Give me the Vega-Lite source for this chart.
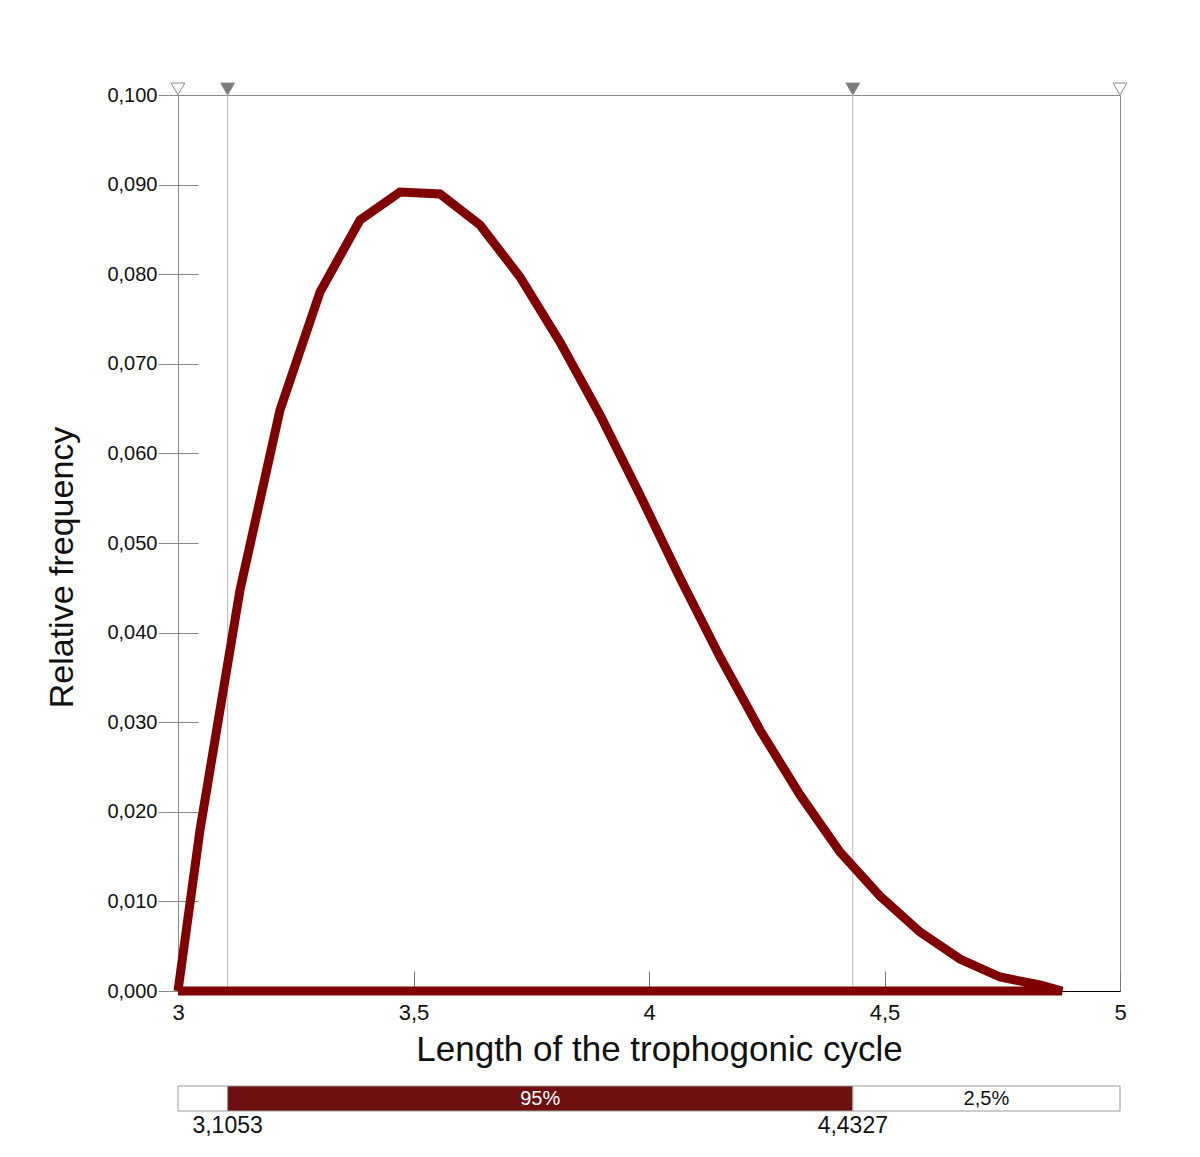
{
  "$schema": "https://vega.github.io/schema/vega-lite/v6.json",
  "padding": {"left": 44, "top": 80, "right": 20, "bottom": 10},
  "background": "white",
  "spacing": 17,
  "config": {
    "font": "Liberation Sans",
    "view": {"stroke": "#8a8a8a", "strokeWidth": 1}
  },
  "resolve": {"scale": {"fill": "independent", "color": "independent"}},
  "datasets": {
    "curve": [
      {"x": 3.0, "y": 0.0, "o": 1},
      {"x": 3.0467, "y": 0.01797, "o": 2},
      {"x": 3.1316, "y": 0.04475, "o": 3},
      {"x": 3.2166, "y": 0.06484, "o": 4},
      {"x": 3.3015, "y": 0.07801, "o": 5},
      {"x": 3.3864, "y": 0.08605, "o": 6},
      {"x": 3.4713, "y": 0.08917, "o": 7},
      {"x": 3.5563, "y": 0.08895, "o": 8},
      {"x": 3.6412, "y": 0.08549, "o": 9},
      {"x": 3.7261, "y": 0.07969, "o": 10},
      {"x": 3.811, "y": 0.07243, "o": 11},
      {"x": 3.896, "y": 0.06429, "o": 12},
      {"x": 3.9809, "y": 0.05536, "o": 13},
      {"x": 4.0658, "y": 0.04609, "o": 14},
      {"x": 4.1507, "y": 0.03728, "o": 15},
      {"x": 4.2357, "y": 0.02913, "o": 16},
      {"x": 4.3206, "y": 0.02188, "o": 17},
      {"x": 4.4055, "y": 0.01551, "o": 18},
      {"x": 4.4904, "y": 0.0106, "o": 19},
      {"x": 4.5754, "y": 0.00658, "o": 20},
      {"x": 4.6603, "y": 0.00357, "o": 21},
      {"x": 4.7452, "y": 0.00156, "o": 22},
      {"x": 4.8301, "y": 0.00067, "o": 23},
      {"x": 4.8769, "y": 0.0, "o": 24},
      {"x": 3.0, "y": 0.0, "o": 25}
    ],
    "bounds": [
      {"x": 3.1053, "kind": "ci", "label": "3,1053"},
      {"x": 4.4327, "kind": "ci", "label": "4,4327"}
    ],
    "markers": [
      {"x": 3.0, "y": 0.1, "kind": "range"},
      {"x": 3.1053, "y": 0.1, "kind": "ci"},
      {"x": 4.4327, "y": 0.1, "kind": "ci"},
      {"x": 5.0, "y": 0.1, "kind": "range"}
    ],
    "segments": [
      {"x": 3.0, "x2": 3.1053, "kind": "tail", "label": ""},
      {"x": 3.1053, "x2": 4.4327, "kind": "ci", "label": "95%"},
      {"x": 4.4327, "x2": 5.0, "kind": "tail", "label": "2,5%"}
    ]
  },
  "vconcat": [
    {
      "width": 942,
      "height": 896,
      "layer": [
        {
          "data": {"name": "bounds"},
          "mark": {"type": "rule", "color": "#b8b8b8", "strokeWidth": 1},
          "encoding": {
            "x": {
              "field": "x", "type": "quantitative",
              "scale": {"domain": [3, 5], "nice": false, "zero": false},
              "axis": {
                "values": [3, 3.5, 4, 4.5, 5],
                "labelExpr": "replace(format(datum.value, '~g'), '.', ',')",
                "labelFontSize": 22,
                "labelColor": "#111",
                "labelPadding": 31,
                "labelFlush": false,
                "labelOverlap": false,
                "tickSize": -20,
                "tickColor": "#777",
                "domainColor": "#000",
                "grid": false,
                "title": "Length of the trophogonic cycle",
                "titleFontSize": 35,
                "titleFontWeight": "normal",
                "titleColor": "#111",
                "titlePadding": 9,
                "titleX": 481,
                "titleY": 41,
                "titleAlign": "center",
                "titleBaseline": "top"
              }
            }
          }
        },
        {
          "data": {"name": "curve"},
          "mark": {"type": "line", "color": "#800000", "strokeWidth": 9, "strokeJoin": "miter", "strokeCap": "butt"},
          "encoding": {
            "x": {"field": "x", "type": "quantitative"},
            "y": {
              "field": "y", "type": "quantitative",
              "scale": {"domain": [0, 0.1], "nice": false},
              "axis": {
                "values": [0, 0.01, 0.02, 0.03, 0.04, 0.05, 0.06, 0.07, 0.08, 0.09, 0.1],
                "labelExpr": "replace(format(datum.value, '.3f'), '.', ',')",
                "labelFontSize": 20,
                "labelColor": "#111",
                "labelPadding": 1,
                "offset": -20,
                "domain": false,
                "tickSize": 40,
                "tickColor": "#888",
                "grid": false,
                "title": "Relative frequency",
                "titleFontSize": 34,
                "titleFontWeight": "normal",
                "titleColor": "#111",
                "titleAngle": -90,
                "titleAlign": "center",
                "titleBaseline": "middle",
                "titleX": -136,
                "titleY": 472
              }
            },
            "order": {"field": "o", "type": "quantitative"}
          }
        },
        {
          "data": {"name": "markers"},
          "mark": {"type": "point", "shape": "triangle-down", "size": 190, "filled": true, "yOffset": -6, "stroke": "#8a8a8a", "strokeWidth": 1, "opacity": 1},
          "encoding": {
            "x": {"field": "x", "type": "quantitative"},
            "y": {"field": "y", "type": "quantitative"},
            "fill": {
              "field": "kind", "type": "nominal",
              "scale": {"domain": ["range", "ci"], "range": ["#ffffff", "#7a7a7a"]},
              "legend": null
            }
          }
        }
      ]
    },
    {
      "width": 942,
      "height": 25,
      "view": {"stroke": null},
      "layer": [
        {
          "data": {"name": "segments"},
          "mark": {"type": "rect", "stroke": "#9a9a9a", "strokeWidth": 1},
          "encoding": {
            "x": {"field": "x", "type": "quantitative", "scale": {"domain": [3, 5], "nice": false, "zero": false}, "axis": null},
            "x2": {"field": "x2"},
            "fill": {
              "field": "kind", "type": "nominal",
              "scale": {"domain": ["tail", "ci"], "range": ["#ffffff", "#6e1010"]},
              "legend": null
            }
          }
        },
        {
          "data": {"name": "segments"},
          "transform": [{"calculate": "(datum.x + datum.x2) / 2", "as": "mid"}],
          "mark": {"type": "text", "fontSize": 20, "baseline": "middle", "align": "center"},
          "encoding": {
            "x": {"field": "mid", "type": "quantitative"},
            "text": {"field": "label"},
            "color": {
              "field": "kind", "type": "nominal",
              "scale": {"domain": ["tail", "ci"], "range": ["#111111", "#ffffff"]},
              "legend": null
            }
          }
        },
        {
          "data": {"name": "bounds"},
          "mark": {"type": "text", "fontSize": 23, "baseline": "top", "align": "center", "dy": 16, "color": "#111"},
          "encoding": {
            "x": {"field": "x", "type": "quantitative"},
            "text": {"field": "label"}
          }
        }
      ]
    }
  ]
}
